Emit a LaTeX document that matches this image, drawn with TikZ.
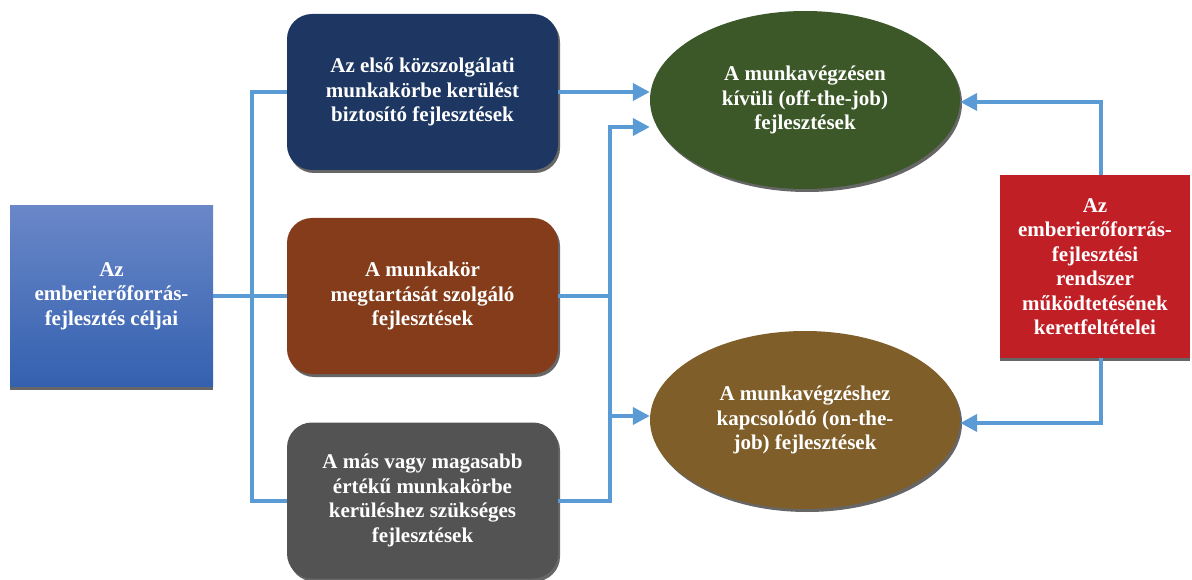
\documentclass[tikz,border=0pt]{standalone}
\usepackage{fontspec}
\setmainfont{Liberation Serif}
\usetikzlibrary{shapes.geometric,arrows.meta,shadows}
\definecolor{linkblue}{HTML}{5B9BD5}
\definecolor{goaltop}{HTML}{6A87C8}
\definecolor{goalbottom}{HTML}{3461AF}
\definecolor{devnavy}{HTML}{1D3762}
\definecolor{devbrown}{HTML}{843C1A}
\definecolor{devgray}{HTML}{535353}
\definecolor{ovalgreen}{HTML}{3C5828}
\definecolor{ovalolive}{HTML}{7F5E29}
\definecolor{framered}{HTML}{C01F26}
\tikzset{
    boxtext/.style={text=white, align=center, inner sep=0pt, font=\bfseries\fontsize{21}{24.5}\selectfont},
    boxshadow/.style={drop shadow={shadow xshift=2pt, shadow yshift=-3pt, fill=black!60, opacity=1}},
    flatshadow/.style={drop shadow={shadow xshift=0pt, shadow yshift=-3pt, fill=black!60, opacity=1}},
    goalbox/.style={boxtext, flatshadow, rectangle, minimum width=203pt, minimum height=181pt,
        top color=goaltop, bottom color=goalbottom},
    devbox/.style={boxtext, boxshadow, rectangle, rounded corners=25pt, minimum width=271pt, minimum height=156pt},
    devoval/.style={boxtext, boxshadow, ellipse, minimum width=310pt, minimum height=178pt},
    framebox/.style={boxtext, flatshadow, rectangle, fill=framered, minimum width=190pt, minimum height=183pt},
    link/.style={draw=linkblue, line width=4pt},
    arrowlink/.style={link, -{Triangle[length=17pt,width=17pt]}},
}
\begin{document}
\begin{tikzpicture}[x=1pt,y=-1pt]
    \useasboundingbox (0,0) rectangle (1192,580);
    \node[goalbox] (goal) at (111.5,296) {Az\\ emberierőforrás-\\ fejlesztés céljai};
    \node[devbox, fill=devnavy] (devA) at (422.5,92) {Az első közszolgálati\\ munkakörbe kerülést\\ biztosító fejlesztések};
    \node[devbox, fill=devbrown] (devB) at (422.5,296) {A munkakör\\ megtartását szolgáló\\ fejlesztések};
    \node[devbox, fill=devgray] (devC) at (422.5,500.5) {A más vagy magasabb\\ értékű munkakörbe\\ kerüléshez szükséges\\ fejlesztések};
    \node[devoval, fill=ovalgreen] (ovalA) at (805,100) {A munkavégzésen\\ kívüli (off-the-job)\\ fejlesztések};
    \node[devoval, fill=ovalolive] (ovalB) at (805,420) {A munkavégzéshez\\ kapcsolódó (on-the-\\ job) fejlesztések};
    \node[framebox] (frame) at (1095,266.5) {Az\\ emberierőforrás-\\ fejlesztési\\ rendszer\\ működtetésének\\ keretfeltételei};

    \coordinate (jl) at (252,296);
    \coordinate (jr) at (610,296);
    \coordinate (upA) at (610,127);
    \coordinate (upB) at (610,416);
    \coordinate (frameN) at (1101,175);
    \coordinate (frameS) at (1101,358);

    \draw[link] (goal.east) -- (devB.west);
    \draw[link] (devA.west) -| (jl) |- (devC.west);
    \draw[arrowlink] (devA.east) -- (devA.east -| ovalA.west);
    \draw[link] (devB.east) -- (jr);
    \draw[arrowlink] (devC.east) -| (upA) -- (upA -| ovalA.west);
    \draw[arrowlink] (upB) -- (upB -| ovalB.west);
    \draw[arrowlink] (frameN) |- ([yshift=-2pt]ovalA.east);
    \draw[arrowlink] (frameS) |- ([yshift=-3pt]ovalB.east);
\end{tikzpicture}
\end{document}
